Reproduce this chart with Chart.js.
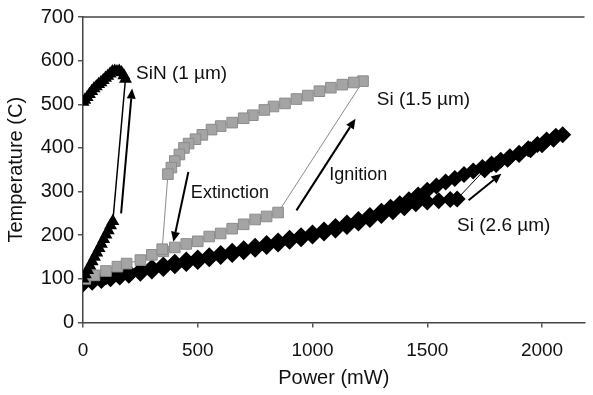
<!DOCTYPE html>
<html><head><meta charset="utf-8">
<script src="https://cdn.jsdelivr.net/npm/chart.js@4"></script>
<style>html,body{margin:0;padding:0;background:#fff}</style>
</head><body>
<canvas id="c" width="593" height="395"></canvas>
<script>
// ---- data ----
const sinPower = [0,10,20,30,40,50,60,70,80,90,100,110,120,130, 185,178,168,158,148,138,128,118,108,98,88,78,68,58,48,38,28,18,8,0];
const sinTemp  = [100,110,120,130,140,150,160,170,180,191,201,211,222,232, 558,566,573,576,575,576,575,570,565,560,555,550,546,541,536,530,523,516,510,505];

const si15Power = [10,50,100,150,190,250,300,350,400,450,500,550,600,650,700,750,800,850, 1220,1180,1130,1080,1030,980,930,880,830,790,740,700,650,600,560,520,490,460,440,420,400,385,370, 345];
const si15Temp  = [100,108,118,128,135,143,155,163,172,180,186,197,204,215,225,236,243,252, 553,550,545,538,530,520,512,502,495,487,475,468,458,450,442,430,420,410,400,385,370,355,340, 168];

const si26Power = [0,40,80,120,160,200,250,300,350,400,450,500,550,600,650,700,750,800,850,900,950,1000,1050,1100,1150,1200,1250,1300,1350,1400,1450,1500,1550,1600,1630,
  1750,1800,1850,1900,1950,2000,2050,2090,
  2060,2020,1980,1940,1900,1860,1820,1780,1740,1700,1660,1620,1580,1540,1500,1460,1420,1380,1340,1300,1250,1200,1150,1100,1050,1000,950,900,850,800,750,700,650,600,550,500,450,400,350,300,250,200,150,100,50,0];
const si26Temp  = [88,92,96,100,104,108,113,118,124,130,135,140,146,151,156,162,168,174,180,186,192,198,205,212,220,228,236,245,254,263,272,276,279,282,283,
  350,362,374,385,396,407,420,430,
  427,418,408,398,388,380,372,363,355,347,339,330,322,313,303,292,281,272,264,255,245,236,228,220,212,205,199,193,187,181,175,169,163,158,153,148,143,138,132,126,120,115,110,105,99,94];

const xTicks = [0,500,1000,1500,2000];
const yTicks = [0,100,200,300,400,500,600,700];

// annotation arrows [x1,y1,x2,y2] in data units (tail -> head)
const arrowSiN  = [166,250,214,536];
const arrowExt  = [459,345,394,185];
const arrowIgn  = [930,257,1187,467];
const arrowSi26 = [1680,280,1823,341];
const arrows = [arrowSiN, arrowExt, arrowIgn, arrowSi26];

const labelTexts = ['SiN (1 \u00b5m)', 'Si (1.5 \u00b5m)', 'Extinction', 'Ignition', 'Si (2.6 \u00b5m)'];
const labelX = [231, 1280, 470, 1073, 1630];
const labelY = [570, 510, 296, 337, 221];
const labelSize = [19, 19, 18, 18, 19];

const zip = (xs, ys) => xs.map((x, i) => ({x, y: ys[i]}));
const FONT = "'Liberation Sans', Arial, sans-serif";

const annot = {
  id: 'annot',
  afterDatasetsDraw(chart) {
    const ctx = chart.ctx, xs = chart.scales.x, ys = chart.scales.y, ca = chart.chartArea;
    ctx.save();
    // top frame line
    ctx.strokeStyle = '#444'; ctx.lineWidth = 1.5;
    ctx.beginPath(); ctx.moveTo(ca.left, ca.top); ctx.lineTo(ca.right, ca.top); ctx.stroke();
    // arrows
    ctx.strokeStyle = '#000'; ctx.fillStyle = '#000'; ctx.lineWidth = 2;
    arrows.forEach(a => {
      const x1 = xs.getPixelForValue(a[0]), y1 = ys.getPixelForValue(a[1]);
      const x2 = xs.getPixelForValue(a[2]), y2 = ys.getPixelForValue(a[3]);
      const ang = Math.atan2(y2 - y1, x2 - x1), hl = 10, hw = 4.5;
      const bx = x2 - hl * Math.cos(ang), by = y2 - hl * Math.sin(ang);
      ctx.beginPath(); ctx.moveTo(x1, y1); ctx.lineTo(bx, by); ctx.stroke();
      ctx.beginPath(); ctx.moveTo(x2, y2);
      ctx.lineTo(bx + hw * Math.sin(ang), by - hw * Math.cos(ang));
      ctx.lineTo(bx - hw * Math.sin(ang), by + hw * Math.cos(ang));
      ctx.closePath(); ctx.fill();
    });
    // labels
    ctx.fillStyle = '#111'; ctx.textAlign = 'left'; ctx.textBaseline = 'middle';
    labelTexts.forEach((t, i) => {
      ctx.font = labelSize[i] + 'px ' + FONT;
      ctx.fillText(t, xs.getPixelForValue(labelX[i]), ys.getPixelForValue(labelY[i]));
    });
    ctx.restore();
  }
};

new Chart(document.getElementById('c'), {
  type: 'scatter',
  data: {
    datasets: [
      { label: 'SiN (1 \u00b5m)', data: zip(sinPower, sinTemp), showLine: true,
        borderColor: '#000', borderWidth: 1.5, pointStyle: 'triangle', pointRadius: 7.5,
        pointBackgroundColor: '#000', pointBorderColor: '#000', pointBorderWidth: 0 },
      { label: 'Si (1.5 \u00b5m)', data: zip(si15Power, si15Temp), showLine: true,
        borderColor: '#8a8a8a', borderWidth: 1, pointStyle: 'rect', pointRadius: 7.5,
        pointBackgroundColor: '#a4a4a4', pointBorderColor: '#8c8c8c', pointBorderWidth: 1 },
      { label: 'Si (2.6 \u00b5m)', data: zip(si26Power, si26Temp), showLine: true,
        borderColor: '#000', borderWidth: 1, pointStyle: 'rectRot', pointRadius: 8.5,
        pointBackgroundColor: '#000', pointBorderColor: '#000', pointBorderWidth: 0 }
    ]
  },
  options: {
    responsive: false, animation: false, devicePixelRatio: 1,
    layout: { padding: { top: 17, right: 0, left: 0, bottom: 0 } },
    plugins: { legend: { display: false }, tooltip: { enabled: false } },
    scales: {
      x: {
        type: 'linear', min: 0, max: 2185,
        afterFit: s => { s.height = 72.5; },
        afterBuildTicks: s => { s.ticks = xTicks.map(v => ({value: v})); },
        ticks: { callback: v => String(v), color: '#111', padding: 12,
                 font: { family: FONT, size: 19 }, maxRotation: 0, autoSkip: false },
        grid: { drawOnChartArea: false, tickLength: 5, color: '#555', lineWidth: 1.5 },
        border: { color: '#444', width: 1.5 },
        title: { display: true, text: 'Power (mW)', color: '#111',
                 font: { family: FONT, size: 20 }, padding: { top: 0, bottom: 5 } }
      },
      y: {
        type: 'linear', min: 0, max: 700,
        afterFit: s => { s.width = 83; },
        afterBuildTicks: s => { s.ticks = yTicks.map(v => ({value: v})); },
        ticks: { callback: v => String(v), color: '#111', padding: 4,
                 font: { family: FONT, size: 20 }, autoSkip: false },
        grid: { drawOnChartArea: false, tickLength: 5, color: '#555', lineWidth: 1.5 },
        border: { color: '#444', width: 1.5 },
        title: { display: true, text: 'Temperature (C)', color: '#111',
                 font: { family: FONT, size: 20 }, padding: { top: 4, bottom: 0 } }
      }
    }
  },
  plugins: [annot]
});
</script>
</body></html>
